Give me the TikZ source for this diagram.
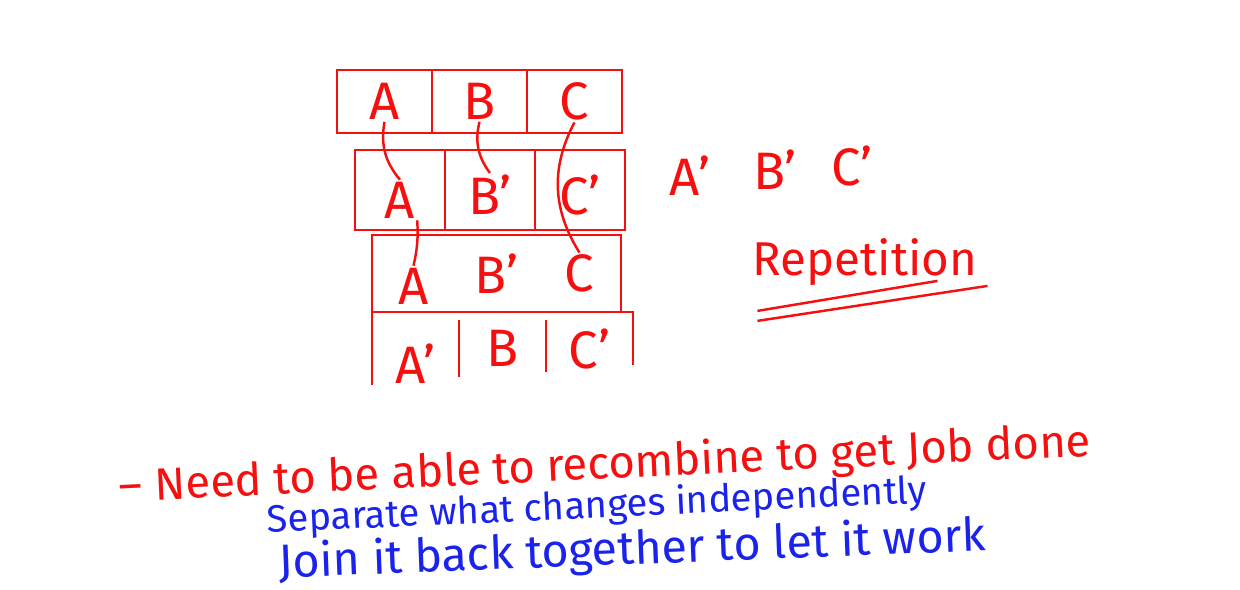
\documentclass[tikz,border=0pt]{standalone}
\usepackage{fontspec}
\setmainfont{Fira Sans}
\usetikzlibrary{positioning}
\definecolor{ink}{RGB}{245,15,15}
\definecolor{pen}{RGB}{25,35,235}

\begin{document}
\begin{tikzpicture}[
    x=0.02cm, y=0.02cm,
    node distance=0pt,
    cell/.style={draw=ink, line width=1.4pt, inner sep=0pt, outer sep=0pt},
    bare/.style={cell, draw=none},
    letter/.style={text=ink, inner sep=1pt, font=\fontsize{30}{34}\selectfont},
    link/.style={ink, line width=1.4pt},
    note/.style={inner sep=0pt, font=\fontsize{25}{28}\selectfont},
  ]
  \useasboundingbox (0,0) rectangle (1240,-590);

  % row 1: A B C
  \node[cell, minimum width=1.9cm, minimum height=1.26cm] (a1) at (384.5,-101.5) {};
  \node[cell, minimum width=1.9cm, minimum height=1.26cm, right=of a1] (b1) {};
  \node[cell, minimum width=1.9cm, minimum height=1.26cm, right=of b1] (c1) {};
  \node[letter] (A1) at (a1) {A};
  \node[letter] (B1) at (b1) {B};
  \node[letter] (C1) at (c1) {C};

  % row 2: A B' C'
  \node[cell, minimum width=1.8cm, minimum height=1.6cm] (a2) at (400,-190) {};
  \node[cell, minimum width=1.8cm, minimum height=1.6cm, right=of a2] (b2) {};
  \node[cell, minimum width=1.8cm, minimum height=1.6cm, right=of b2] (c2) {};
  \node[letter, yshift=-0.2cm] (A2) at (a2) {A};
  \node[letter, yshift=-0.1cm] (B2) at (b2) {B'};
  \node[letter, yshift=-0.1cm] (C2) at (c2) {C'};

  % row 3: A B' C, one box
  \node[bare, minimum width=1.66cm, minimum height=1.54cm] (a3) at (413.5,-273.5) {};
  \node[bare, minimum width=1.66cm, minimum height=1.54cm, right=of a3] (b3) {};
  \node[bare, minimum width=1.66cm, minimum height=1.54cm, right=of b3] (c3) {};
  \draw[link] (a3.north west) rectangle (c3.south east);
  \node[letter, yshift=-0.25cm] (A3) at (a3) {A};
  \node[letter] (B3) at (b3) {B'};
  \node[letter] (C3) at (c3) {C};

  % row 4: A' B C', open at the bottom
  \node[bare, minimum width=1.74cm, minimum height=1.46cm] (a4) at (415.5,-348.5) {};
  \node[bare, minimum width=1.74cm, minimum height=1.46cm, right=of a4] (b4) {};
  \node[bare, minimum width=1.74cm, minimum height=1.46cm, right=of b4] (c4) {};
  \draw[link] (a4.south west) |- (c4.north east) -- ([yshift=0.4cm]c4.south east);
  \draw[link] ([yshift=-0.15cm]a4.north east) -- ([yshift=0.15cm]a4.south east);
  \draw[link] ([yshift=-0.15cm]b4.north east) -- ([yshift=0.25cm]b4.south east);
  \node[letter, yshift=-0.3cm] (A4) at (a4) {A'};
  \node[letter] (B4) at (b4) {B};
  \node[letter] (C4) at (c4) {C'};

  % what stays the same
  \draw[link] (A1.south) to[bend right=25] (A2.north);
  \draw[link] (B1.south) to[bend right=25] (B2.north);
  \draw[link] (C1.south) to[bend right=30] (C3.north);
  \draw[link] (A2.south east) to[bend left=8] (A3.north);

  \node[letter] (pa) at (690,-176) {A'};
  \node[letter] (pb) at (775,-170) {B'};
  \node[letter] (pc) at (852,-166) {C'};

  \node[note, text=ink, font=\fontsize{27}{30}\selectfont] (rep) at (865,-262) {Repetition};
  \draw[link] ([xshift=0.1cm,yshift=-0.5cm]rep.south west) -- ([xshift=-0.8cm,yshift=0.1cm]rep.south east);
  \draw[link] ([xshift=0.1cm,yshift=-0.7cm]rep.south west) -- ([xshift=0.2cm,yshift=0cm]rep.south east);

  \node[note, text=ink, rotate=2.7, font=\fontsize{25.8}{29}\selectfont] (need) at (605,-466) {– Need to be able to recombine to get Job done};
  \node[note, text=pen, rotate=2.6, font=\fontsize{21.7}{24}\selectfont] (sep) at (597,-507) {Separate what changes independently};
  \node[note, text=pen, rotate=2.2, font=\fontsize{26.5}{29}\selectfont] (join) at (632,-551) {Join it back together to let it work};
\end{tikzpicture}
\end{document}
